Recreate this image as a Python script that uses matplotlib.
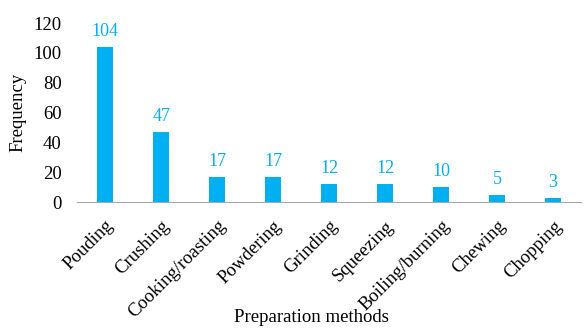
import numpy as np
import matplotlib.pyplot as plt

methods = ["Pouding", "Crushing", "Cooking/roasting", "Powdering", "Grinding",
           "Squeezing", "Boiling/burning", "Chewing", "Chopping"]
counts = [104, 47, 17, 17, 12, 12, 10, 5, 3]
yticks = [0, 20, 40, 60, 80, 100, 120]

blue = "#00B0F0"
plt.rcParams['font.family'] = ['Liberation Serif', 'DejaVu Serif']

fig = plt.figure(figsize=(5.84, 3.29), dpi=100)
ax = fig.add_axes([0.132, 0.386, 0.863, 0.544])

x = np.arange(len(methods))
bars = ax.bar(x, counts, width=0.3, color=blue)
for b, v in zip(bars, counts):
    ax.annotate(str(v), (b.get_x() + b.get_width() / 2, v), xytext=(0, 5),
                textcoords='offset points', ha='center', va='bottom',
                color=blue, fontsize=13)

ax.set_xlim(-0.5, len(methods) - 0.5)
ax.set_ylim(0, 120)
ax.set_yticks(yticks)
ax.set_xticks(x)
ax.set_xticklabels(methods, rotation=45, ha='right', rotation_mode='anchor')
ax.tick_params(axis='both', length=0, labelsize=13.5)
ax.tick_params(axis='y', pad=11)
ax.tick_params(axis='x', pad=11)

for s in ['top', 'right', 'left']:
    ax.spines[s].set_visible(False)
ax.spines['bottom'].set_color('#a6a6a6')

ax.set_ylabel("Frequency", fontsize=13.5)
ax.yaxis.set_label_coords(-0.1, 0.5)
ax.set_xlabel("Preparation methods", fontsize=13.5)
ax.xaxis.set_label_coords(0.464, -0.6)

fig.savefig("out.png", dpi=100)
